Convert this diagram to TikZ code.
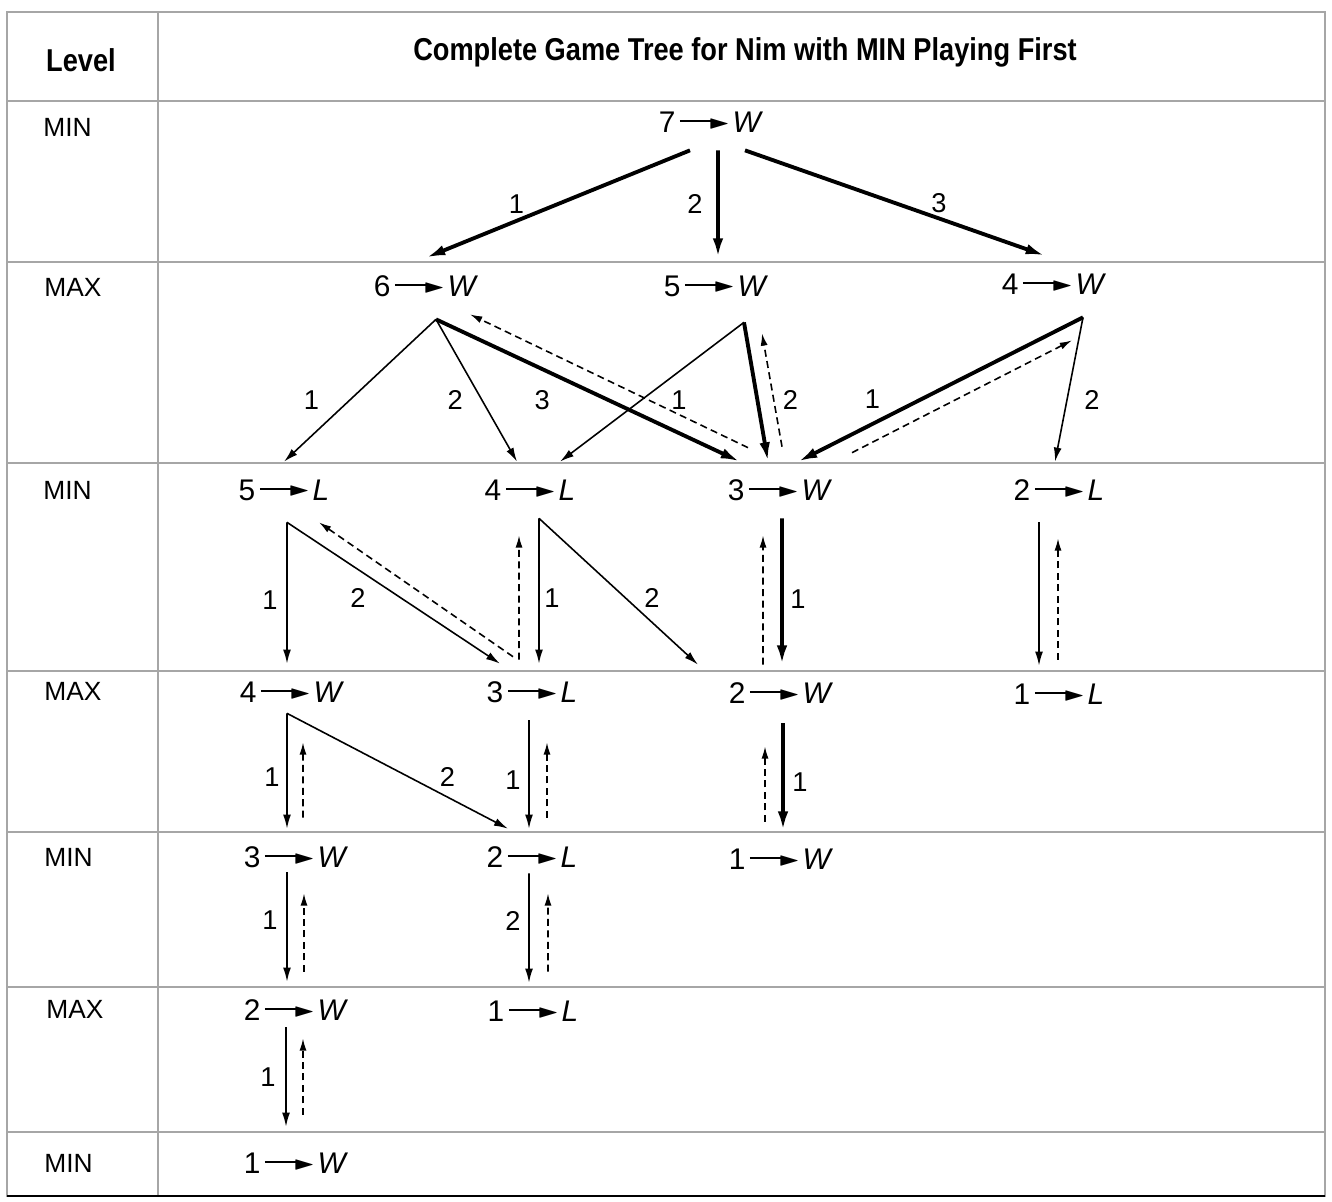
\documentclass[tikz,border=0pt]{standalone}
\usepackage{fontspec}
\usepackage{amssymb}
\usepackage{graphicx}
\setmainfont{Liberation Sans}
\newfontfamily\headfont[FakeStretch=0.86]{Liberation Sans}
\usetikzlibrary{arrows.meta}

% "n -> W" style position labels
\newcommand\yields{\kern0.15em\rule[0.35em]{1.15em}{0.06em}\kern-0.2em\raisebox{0.14em}{\scalebox{0.95}[0.6]{$\blacktriangleright$}}\kern0.08em}
\newcommand\pile[2]{#1\yields\textit{#2}}

\begin{document}
\begin{tikzpicture}[
      x=0.02cm, y=-0.02cm,
      state/.style={inner sep=0pt, minimum height=1.12cm, font=\fontsize{17}{20}\selectfont},
      lvl/.style={anchor=west, inner sep=0pt, font=\fontsize{15}{18}\selectfont},
      num/.style={inner sep=0pt, font=\fontsize{15.5}{18}\selectfont},
      move/.style={-{Latex[length=8pt,width=4.5pt]}, line width=0.9pt},
      best/.style={-{Latex[length=11pt,width=6pt]}, line width=2.2pt},
      backup/.style={-{Latex[length=7pt,width=4pt]}, line width=0.9pt, dash pattern=on 4pt off 2.5pt},
      tableline/.style={gray!70, line width=0.6pt}
    ]
      \useasboundingbox (0,0) rectangle (1332,1201);

      % Table frame
      \draw[tableline] (7,12) rectangle (1325,1196);
      \draw[tableline] (158,12) -- (158,1196);
      \foreach \y in {101,262,463,671,832,987,1132}
        \draw[tableline] (7,\y) -- (1325,\y);
      \draw[line width=1.2pt] (7,1196) -- (1325,1196);

      % Header
      \node[font=\headfont\fontsize{18}{21}\selectfont\bfseries] (hdlevel) at (81,60) {Level};
      \node[font=\headfont\fontsize{18}{21}\selectfont\bfseries] (hdtitle) at (745,52) {Complete Game Tree for Nim with MIN Playing First};

      % Levels
      \node[lvl] (lv0) at (43,127) {MIN};
      \node[lvl] (lv1) at (44,287) {MAX};
      \node[lvl] (lv2) at (43,490) {MIN};
      \node[lvl] (lv3) at (44,691) {MAX};
      \node[lvl] (lv4) at (44,857) {MIN};
      \node[lvl] (lv5) at (46,1009) {MAX};
      \node[lvl] (lv6) at (44,1163) {MIN};

      % Positions
      \node[state] (n07) at (711,122) {\pile{7}{W}};
      \node[state] (n16) at (426,286) {\pile{6}{W}};
      \node[state] (n15) at (716,286) {\pile{5}{W}};
      \node[state] (n14) at (1054,284) {\pile{4}{W}};
      \node[state] (n25) at (284,490) {\pile{5}{L}};
      \node[state] (n24) at (530,490) {\pile{4}{L}};
      \node[state] (n23) at (780,490) {\pile{3}{W}};
      \node[state] (n22) at (1059,490) {\pile{2}{L}};
      \node[state] (n34) at (292,692) {\pile{4}{W}};
      \node[state] (n33) at (532,692) {\pile{3}{L}};
      \node[state] (n32) at (781,693) {\pile{2}{W}};
      \node[state] (n31) at (1059,694) {\pile{1}{L}};
      \node[state] (n43) at (296,857) {\pile{3}{W}};
      \node[state] (n42) at (532,857) {\pile{2}{L}};
      \node[state] (n41) at (781,859) {\pile{1}{W}};
      \node[state] (n52) at (296,1010) {\pile{2}{W}};
      \node[state] (n51) at (533,1011) {\pile{1}{L}};
      \node[state] (n61) at (296,1163) {\pile{1}{W}};

      % Moves from 7
      \draw[best] ([xshift=-4.2mm]n07.south) -- (n16.north) node[num, midway, xshift=-8.3mm] {1};
      \draw[best] ([xshift=1.4mm]n07.south) -- ([xshift=0.4mm]n15.north) node[num, midway, xshift=-4.6mm] {2};
      \draw[best] ([xshift=6.8mm]n07.south) -- ([xshift=-1.8mm]n14.north) node[num, midway, xshift=8.8mm] {3};

      % Moves from 6, 5, 4
      \draw[move] ([xshift=2mm,yshift=-1mm]n16.south) -- (n25.north) node[num, pos=.57, xshift=-7.6mm] {1};
      \draw[move] ([xshift=2mm,yshift=-1mm]n16.south) -- ([xshift=-2.6mm]n24.north) node[num, pos=.57, xshift=-5.4mm] {2};
      \draw[best] ([xshift=2mm,yshift=-1mm]n16.south) -- ([xshift=-8mm]n23.north) node[num, pos=.57, xshift=-13.4mm] {3};
      \draw[move] ([xshift=5.6mm,yshift=-1.6mm]n15.south) -- ([xshift=6mm]n24.north) node[num, pos=.56, xshift=7.6mm] {1};
      \draw[best] ([xshift=5.6mm,yshift=-1.6mm]n15.south) -- ([xshift=-2.4mm]n23.north) node[num, pos=.56, xshift=6.6mm] {2};
      \draw[best] ([xshift=5.8mm,yshift=-1mm]n14.south) -- ([xshift=3.6mm]n23.north) node[num, pos=.57, xshift=-9.6mm] {1};
      \draw[move] ([xshift=5.8mm,yshift=-1mm]n14.south) -- ([xshift=-0.8mm]n22.north) node[num, pos=.57, xshift=5mm] {2};
      \draw[backup] ([xshift=-6.4mm,yshift=2.8mm]n23.north) -- ([xshift=8.8mm]n16.south);
      \draw[backup] ([xshift=0.4mm,yshift=3mm]n23.north) -- ([xshift=9.2mm,yshift=-3.8mm]n15.south);
      \draw[backup] ([xshift=14.4mm,yshift=1.8mm]n23.north) -- ([xshift=3.6mm,yshift=-5.6mm]n14.south);

      % Moves from 5, 4, 3, 2
      \draw[move] ([xshift=0.6mm,yshift=-0.8mm]n25.south) -- ([xshift=-1mm]n34.north) node[num, pos=.55, xshift=-3.4mm] {1};
      \draw[move] ([xshift=0.6mm,yshift=-0.8mm]n25.south) -- ([xshift=-6.4mm]n33.north) node[num, pos=.535, xshift=-8.6mm] {2};
      \draw[backup] ([xshift=-3.8mm,yshift=1.4mm]n33.north) -- ([xshift=7mm,yshift=-0.8mm]n25.south);
      \draw[backup] ([xshift=-2.6mm,yshift=0.8mm]n33.north) -- ([xshift=-2.2mm,yshift=-3.4mm]n24.south);
      \draw[move] ([xshift=1.8mm]n24.south) -- ([xshift=1.4mm]n33.north) node[num, pos=.55, xshift=2.6mm] {1};
      \draw[move] ([xshift=1.8mm]n24.south) -- ([xshift=-16.6mm]n32.north) node[num, pos=.544, xshift=5.3mm] {2};
      \draw[best] ([xshift=0.4mm]n23.south) -- ([xshift=0.2mm]n32.north) node[num, pos=.55, xshift=3.2mm] {1};
      \draw[backup] ([xshift=-3.6mm]n32.north) -- ([xshift=-3.4mm,yshift=-3.4mm]n23.south);
      \draw[move] ([xshift=-4mm,yshift=-0.8mm]n22.south) -- ([xshift=-4mm]n31.north);
      \draw[backup] ([xshift=-0.2mm,yshift=1.2mm]n31.north) -- ([xshift=-0.2mm,yshift=-4mm]n22.south);

      % Moves from 4, 3, 2
      \draw[move] ([xshift=-1mm,yshift=1.4mm]n34.south) -- ([xshift=-1.8mm]n43.north) node[num, pos=.55, xshift=-3mm] {1};
      \draw[move] ([xshift=-1mm,yshift=1.4mm]n34.south) -- ([xshift=-4.8mm]n42.north) node[num, pos=.55, xshift=7.8mm] {2};
      \draw[backup] ([xshift=1.4mm,yshift=2.2mm]n43.north) -- ([xshift=2.2mm,yshift=-4.4mm]n34.south);
      \draw[move] ([xshift=-0.6mm]n33.south) -- ([xshift=-0.6mm]n42.north) node[num, pos=.55, xshift=-3.2mm] {1};
      \draw[backup] ([xshift=3mm,yshift=2.2mm]n42.north) -- ([xshift=3mm,yshift=-4.4mm]n33.south);
      \draw[best] ([xshift=0.4mm,yshift=-0.4mm]n32.south) -- ([xshift=0.4mm]n41.north) node[num, pos=.55, xshift=3.4mm] {1};
      \draw[backup] ([xshift=-3.2mm,yshift=1.8mm]n41.north) -- ([xshift=-3.2mm,yshift=-5mm]n32.south);

      % Moves from 3, 2
      \draw[move] ([xshift=-1.8mm,yshift=2.6mm]n43.south) -- ([xshift=-1.8mm]n52.north) node[num, pos=.44, xshift=-3.4mm] {1};
      \draw[backup] ([xshift=1.6mm,yshift=2mm]n52.north) -- ([xshift=1.6mm,yshift=-1.6mm]n43.south);
      \draw[move] ([xshift=-0.6mm,yshift=2.4mm]n42.south) -- ([xshift=-0.8mm]n51.north) node[num, pos=.44, xshift=-3.2mm] {2};
      \draw[backup] ([xshift=3mm,yshift=2.2mm]n51.north) -- ([xshift=3.2mm,yshift=-1.6mm]n42.south);

      % Last move
      \draw[move] ([xshift=-2mm,yshift=2.2mm]n52.south) -- ([xshift=-2mm,yshift=1.6mm]n61.north) node[num, midway, xshift=-3.6mm] {1};
      \draw[backup] ([xshift=1.4mm,yshift=4mm]n61.north) -- ([xshift=1.4mm]n52.south);

    \end{tikzpicture}
\end{document}
